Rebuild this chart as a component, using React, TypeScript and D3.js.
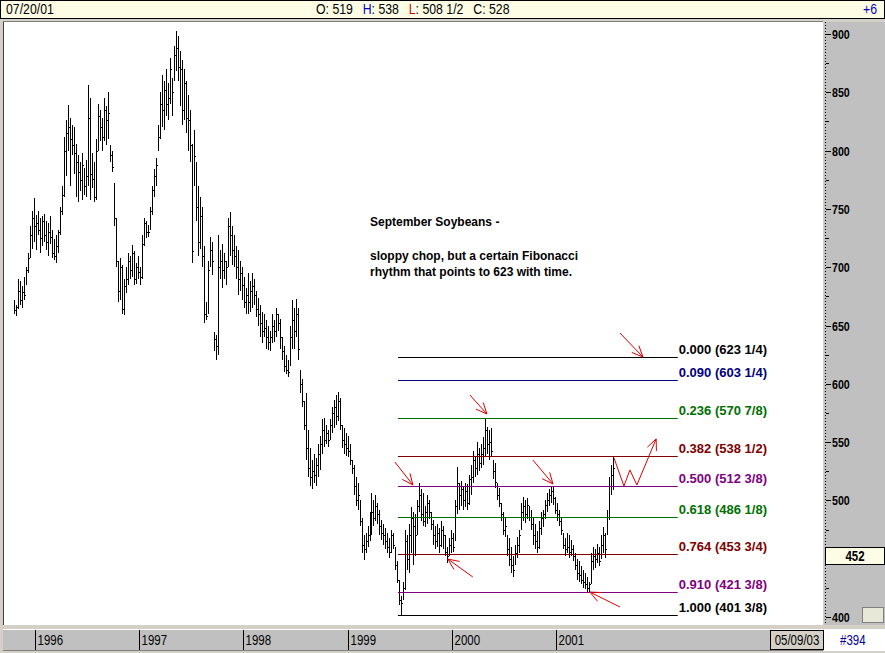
import React from "react";
import * as d3 from "d3";

// ---- Weekly bars (Sep soybeans), last bar = 07/20/01 ----
const lastDate = new Date(2001, 6, 20);
const highs = [
  672,668,690,688,684,692,700,712,735,748,
  759,745,748,742,744,746,740,738,744,732,
  724,728,732,752,770,812,826,839,828,822,
  820,806,796,790,798,785,792,856,845,798,
  790,810,840,835,828,845,838,850,805,800,
  772,742,705,708,702,690,700,712,710,719,
  714,704,710,700,728,742,740,736,752,770,
  784,794,822,850,865,860,870,858,879,862,
  890,903,898,885,878,870,860,848,835,806,
  818,790,770,760,752,718,670,705,726,722,
  644,642,728,715,720,712,705,742,747,735,
  728,718,715,705,700,692,682,695,688,695,
  690,680,674,668,662,660,655,650,645,660,
  655,665,660,656,640,632,625,620,650,672,
  665,673,665,612,604,585,592,560,545,535,
  540,536,548,555,570,571,565,560,570,580,
  586,590,593,588,565,562,558,555,548,535,
  530,520,515,500,485,470,472,478,490,506,
  500,505,498,492,483,480,476,472,468,475,
  472,460,448,432,418,430,475,470,480,494,
  490,488,500,515,510,506,495,505,500,490,
  483,478,480,476,482,478,470,460,468,475,
  472,500,529,515,517,512,515,514,522,530,
  542,538,550,545,548,554,571,563,560,562,
  535,532,515,511,498,490,485,470,468,460,
  452,462,469,475,498,503,500,502,495,492,
  486,480,474,482,490,492,500,506,510,512,
  512,503,498,492,485,472,468,472,470,466,
  462,455,450,448,444,440,438,434,430,455,
  460,458,463,460,470,477,472,492,520,530,
  538,
];
const lows = [
  660,658,664,668,665,672,685,695,708,716,
  722,715,728,712,718,722,715,710,720,708,
  706,704,712,728,745,760,778,800,770,796,
  780,760,756,765,758,762,760,770,758,768,
  756,758,800,808,800,808,805,810,790,782,
  735,700,670,672,660,659,678,685,690,692,
  685,686,690,685,690,718,725,726,732,745,
  760,770,800,810,820,818,830,826,840,830,
  860,868,860,838,822,826,815,800,790,704,
  770,740,710,716,700,652,655,660,700,693,
  628,620,625,690,682,690,685,700,710,702,
  700,690,676,680,672,665,660,660,662,665,
  668,657,650,640,635,640,630,629,628,635,
  636,640,645,630,620,610,608,606,615,630,
  630,640,620,592,580,560,535,520,512,510,
  515,512,520,526,540,546,548,546,552,558,
  562,565,568,560,545,540,538,537,530,523,
  505,495,492,478,455,449,455,460,465,470,
  478,482,480,470,466,462,458,455,451,455,
  458,440,429,410,401,415,423,440,438,455,
  445,452,470,490,482,478,477,480,484,475,
  462,458,460,455,460,458,452,446,452,455,
  456,465,488,492,495,492,494,492,496,505,
  515,520,522,525,528,530,538,540,535,538,
  518,511,500,494,482,470,469,452,444,438,
  434,445,451,455,475,482,481,484,482,475,
  462,458,455,458,470,477,484,490,495,498,
  496,488,482,478,470,458,452,455,451,452,
  448,440,432,430,428,425,424,421,421,428,
  440,442,446,444,450,455,451,470,483,505,
  508.5,
];
const closes = [
  663,666,680,672,679,676,698,708,728,742,
  735,738,732,725,740,728,722,730,726,712,
  710,718,730,748,762,800,815,820,810,805,
  798,790,782,775,788,770,778,828,780,776,
  760,800,830,820,812,835,826,832,796,786,
  742,705,680,700,664,684,690,705,698,712,
  690,700,696,692,720,738,730,730,748,766,
  778,788,812,840,835,852,840,845,870,850,
  882,888,872,870,835,858,828,826,805,714,
  795,752,722,744,710,660,658,698,715,705,
  638,632,700,705,698,705,700,735,728,715,
  710,700,690,695,685,670,676,670,680,684,
  676,664,660,652,645,648,640,636,640,650,
  645,660,652,640,628,615,612,610,640,655,
  645,660,630,600,585,565,545,528,520,525,
  522,530,540,548,560,552,558,552,565,575,
  580,572,585,565,552,548,545,542,535,528,
  512,500,505,482,462,458,465,470,480,490,
  485,495,488,478,472,470,465,460,456,470,
  462,445,432,415,412,425,465,450,470,485,
  478,470,495,505,488,482,490,498,490,480,
  470,465,472,462,475,470,456,452,462,468,
  460,495,515,505,510,500,508,498,518,520,
  535,528,540,532,540,545,560,548,550,542,
  525,516,505,498,488,475,478,458,450,445,
  440,455,462,470,490,495,488,496,486,480,
  470,465,460,476,485,488,496,500,505,508,
  502,492,488,482,475,462,458,460,456,458,
  452,445,438,436,432,430,428,425,428,448,
  452,450,455,448,462,470,458,486,512,522,
  528,
];

const yearTicks = [1996, 1997, 1998, 1999, 2000, 2001];
const priceTicks = [400, 450, 500, 550, 600, 650, 700, 750, 800, 850, 900];
const minorTicks = [425, 475, 525, 575, 625, 675, 725, 775, 825, 875];

const fibRatios = ["0.000", "0.090", "0.236", "0.382", "0.500", "0.618", "0.764", "0.910", "1.000"];
const fibPrices = [623.25, 603.25, 570.875, 538.5, 512.375, 486.125, 453.75, 421.375, 401.375];
const fibPriceText = ["623 1/4", "603 1/4", "570 7/8", "538 1/2", "512 3/8", "486 1/8", "453 3/4", "421 3/8", "401 3/8"];
const fibColors = ["#000000", "#000080", "#007000", "#800000", "#800080", "#007000", "#800000", "#800080", "#000000"];
const fibStart = 1999.484; // fractional year where fib lines begin
const fibEnd = 2002.17;

// Hand-drawn red arrows: [fracYear, price] points, last point = arrow tip
const arrows: [number, number][][] = [
  [[2001.614, 643.6], [2001.835, 623.0]],
  [[2000.175, 590.4], [2000.338, 574.1]],
  [[1999.455, 532.9], [1999.628, 513.2]],
  [[2000.779, 534.6], [2000.971, 514.1]],
  [[2000.203, 434.3], [1999.964, 449.7]],
  [[2001.614, 408.6], [2001.326, 421.4]],
  [[2001.557, 536.4], [2001.653, 512.3], [2001.71, 526.1], [2001.777, 513.2], [2001.962, 552.7]],
];

const lastPrice = 452;
const headerDate = "07/20/01";

const SANS = "'Liberation Sans', Arial, sans-serif";

function fy(y: number): Date {
  const yr = Math.floor(y);
  const start = new Date(yr, 0, 1).getTime();
  const end = new Date(yr + 1, 0, 1).getTime();
  return new Date(start + (y - yr) * (end - start));
}

// Narrow text (Arial Narrow look): Liberation Sans squeezed horizontally
function NText(props: { x: number; y: number; size: number; fill?: string; bold?: boolean; anchor?: string; children: React.ReactNode }) {
  const { x, y, size, fill = "#000", bold, anchor, children } = props;
  return (
    <text transform={`translate(${x},${y}) scale(0.82,1)`} fontFamily={SANS} fontSize={size}
      fontWeight={bold ? "bold" : "normal"} fill={fill} textAnchor={anchor as any}>
      {children}
    </text>
  );
}

export default function App() {
  const W = 885, H = 653;
  const plotL = 4, plotR = 823, plotT = 22, plotB = 625;
  const x = d3.scaleTime().domain([new Date(1996, 0, 1), new Date(2001, 0, 1)]).range([35, 556]);
  const y = d3.scaleLinear().domain([400, 900]).range([617, 34]);
  const n = highs.length;
  const first = d3.timeFriday.offset(lastDate, -(n - 1));
  const dates = highs.map((_, i) => d3.timeFriday.offset(first, i));

  const px = (d: Date) => Math.round(x(d)) + 0.5;
  const py = (v: number) => Math.round(y(v)) + 0.5;

  const arrowHead = (pts: [number, number][]) => {
    const [a, b] = pts.slice(-2).map(([t, p]) => [x(fy(t)), y(p)]);
    const ang = Math.atan2(b[1] - a[1], b[0] - a[0]);
    const L = 12, s = 0.42;
    const p1 = [b[0] - L * Math.cos(ang - s), b[1] - L * Math.sin(ang - s)];
    const p2 = [b[0] - L * Math.cos(ang + s), b[1] - L * Math.sin(ang + s)];
    return `M${p1[0]},${p1[1]}L${b[0]},${b[1]}L${p2[0]},${p2[1]}`;
  };
  const line = d3.line<[number, number]>().x((d) => x(fy(d[0]))).y((d) => y(d[1]));

  const boxY = y(lastPrice);

  return (
    <svg width={W} height={H} style={{ position: "fixed", left: 0, top: 0, background: "#d4d0c8" }}>
      {/* header bar */}
      <rect x={0.5} y={0.5} width={W - 1} height={18} fill="#fdfde6" stroke="#000" />
      <NText x={6} y={14} size={15}>{headerDate}</NText>
      <NText x={316} y={14} size={15}>
        <tspan>O: 519</tspan>
        <tspan fill="#0000c0" dx={12}>H</tspan><tspan>: 538</tspan>
        <tspan fill="#d00000" dx={12}>L</tspan><tspan>: 508 1/2</tspan>
        <tspan dx={12}>C: 528</tspan>
      </NText>
      <NText x={877} y={14} size={15} fill="#0000c0" anchor="end">+6</NText>

      {/* plot area */}
      <rect x={plotL} y={plotT} width={plotR - plotL} height={plotB - plotT} fill="#fff" />
      <line x1={3.5} x2={3.5} y1={plotT} y2={plotB} stroke="#404040" />
      <line x1={3} x2={plotR} y1={plotT - 0.5} y2={plotT - 0.5} stroke="#808080" />

      {/* bars */}
      <g stroke="#000" strokeWidth={1} shapeRendering="crispEdges">
        {dates.map((d, i) => {
          const xx = px(d);
          return (
            <g key={i}>
              <line x1={xx} x2={xx} y1={y(highs[i])} y2={y(lows[i])} />
              <line x1={xx} x2={xx + 1.5} y1={py(closes[i])} y2={py(closes[i])} />
            </g>
          );
        })}
      </g>

      {/* fib lines */}
      {fibPrices.map((p, i) => (
        <g key={i}>
          <line x1={x(fy(fibStart))} x2={x(fy(fibEnd))} y1={py(p)} y2={py(p)} stroke={fibColors[i]} strokeWidth={1} />
          <text x={x(fy(fibEnd)) + 1} y={y(p) - 3} fontFamily={SANS} fontWeight="bold" fontSize={13} fill={fibColors[i]}>
            {fibRatios[i]} ({fibPriceText[i]})
          </text>
        </g>
      ))}

      {/* arrows */}
      <g stroke="#e00000" strokeWidth={1} fill="none">
        {arrows.map((a, i) => (
          <g key={i}>
            <path d={line(a) || ""} />
            <path d={arrowHead(a)} />
          </g>
        ))}
      </g>

      {/* annotation */}
      <g fontFamily={SANS} fontWeight="bold" fontSize={12} fill="#000">
        <text x={370} y={226}>September Soybeans -</text>
        <text x={370} y={260}>sloppy chop, but a certain Fibonacci</text>
        <text x={370} y={276}>rhythm that points to 623 with time.</text>
      </g>

      {/* right price axis */}
      <rect x={824} y={plotT} width={W - 824} height={plotB - plotT} fill="#c0c0c0" />
      <line x1={825.5} x2={825.5} y1={plotT} y2={plotB} stroke="#000" strokeDasharray="1,2" />
      <g shapeRendering="crispEdges">
        {minorTicks.map((t) => (
          <line key={t} x1={826} x2={829} y1={py(t)} y2={py(t)} stroke="#000" />
        ))}
        {priceTicks.map((t) => (
          <line key={t} x1={826} x2={831} y1={py(t)} y2={py(t)} stroke="#000" />
        ))}
      </g>
      {priceTicks.filter((t) => Math.abs(y(t) - boxY) > 12).map((t) => (
        <NText key={t} x={832} y={y(t) + 5} size={13} bold>{t}</NText>
      ))}
      <rect x={825.5} y={Math.round(boxY) - 8.5} width={59} height={17} fill="#fdfde6" stroke="#000" />
      <NText x={855} y={boxY + 5} size={14} bold anchor="middle">{lastPrice}</NText>
      <rect x={862.5} y={607.5} width={21} height={15} fill="#e8e8d8" stroke="#808080" />

      {/* bottom time axis */}
      <rect x={3} y={629.5} width={820} height={20.5} fill="#c0c0c0" />
      <line x1={3} x2={823} y1={629.5} y2={629.5} stroke="#fff" />
      <line x1={3} x2={823} y1={650.5} y2={650.5} stroke="#808080" />
      {yearTicks.map((yr) => {
        const xx = Math.round(x(new Date(yr, 0, 1))) + 0.5;
        return (
          <g key={yr}>
            <line x1={xx} x2={xx} y1={630} y2={650} stroke="#000" />
            <NText x={xx + 2} y={645} size={14}>{yr}</NText>
          </g>
        );
      })}
      <rect x={770.5} y={630.5} width={53} height={19} fill="#d4d0c8" stroke="#000" />
      <NText x={797} y={645} size={14} anchor="middle">05/09/03</NText>
      <rect x={824} y={629} width={61} height={22} fill="#fff" />
      <NText x={840} y={645} size={14} fill="#0000a0">#394</NText>
    </svg>
  );
}
